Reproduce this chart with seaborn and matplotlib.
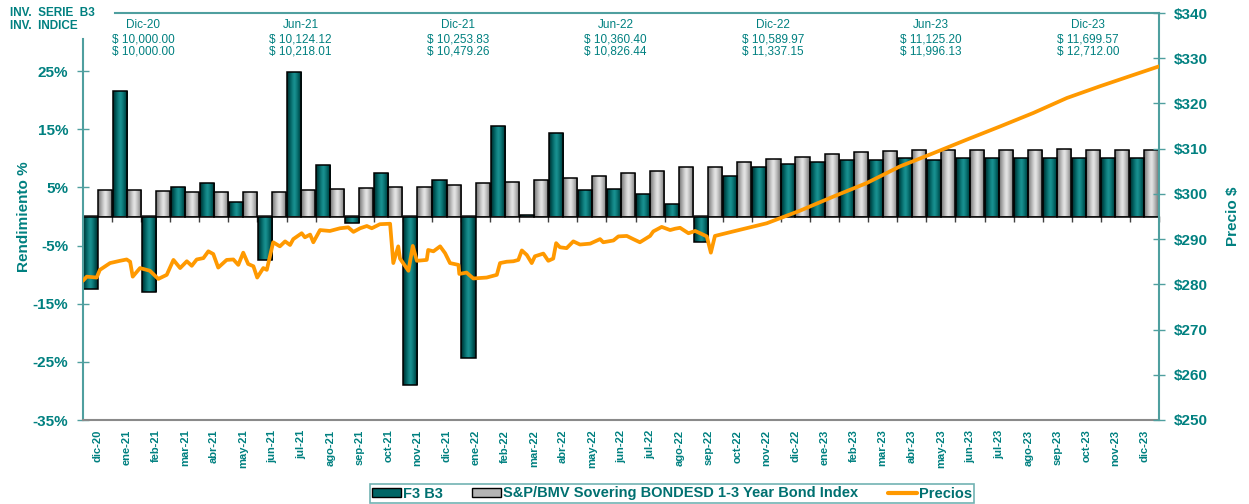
import numpy as np
import pandas as pd
import matplotlib
matplotlib.use("Agg")
import matplotlib.pyplot as plt
import seaborn as sns
from matplotlib.patches import Patch
from matplotlib.lines import Line2D
from matplotlib.colors import LinearSegmentedColormap

# ---------------- data ----------------
meses = ["dic-20", "ene-21", "feb-21", "mar-21", "abr-21", "may-21", "jun-21", "jul-21",
         "ago-21", "sep-21", "oct-21", "nov-21", "dic-21", "ene-22", "feb-22", "mar-22",
         "abr-22", "may-22", "jun-22", "jul-22", "ago-22", "sep-22", "oct-22", "nov-22",
         "dic-22", "ene-23", "feb-23", "mar-23", "abr-23", "may-23", "jun-23", "jul-23",
         "ago-23", "sep-23", "oct-23", "nov-23", "dic-23"]

f3_b3 = [-12.4, 21.5, -12.9, 5.0, 5.7, 2.5, -7.4, 24.9, 8.9, -1.1, 7.4, -29.0, 6.2,
         -24.4, 15.6, 0.2, 14.4, 4.6, 4.7, 3.9, 2.2, -4.4, 7.0, 8.5, 9.0, 9.4, 9.7, 9.7,
         10.1, 9.8, 10.0, 10.1, 10.1, 10.1, 10.0, 10.0, 10.0]

sp_bmv = [4.6, 4.5, 4.3, 4.2, 4.2, 4.2, 4.2, 4.5, 4.7, 4.9, 5.1, 5.1, 5.5, 5.7, 6.0, 6.2,
          6.7, 7.0, 7.4, 7.9, 8.5, 8.5, 9.4, 9.9, 10.3, 10.8, 11.1, 11.3, 11.5, 11.5,
          11.5, 11.5, 11.5, 11.6, 11.5, 11.5, 11.5]

# price series: position in months (0 = dic-20) and price in $
precio_pos = [-0.50, -0.37, -0.03, 0.08, 0.43, 0.77, 1.00, 1.12, 1.21, 1.46, 1.80, 2.09,
              2.38, 2.61, 2.84, 3.07, 3.24, 3.41, 3.64, 3.81, 3.98, 4.15, 4.44, 4.67,
              4.84, 5.01, 5.18, 5.36, 5.49, 5.70, 5.82, 6.04, 6.27, 6.45, 6.62, 6.73,
              7.02, 7.13, 7.31, 7.42, 7.65, 7.99, 8.34, 8.62, 8.80, 9.03, 9.26, 9.43,
              9.71, 10.06, 10.17, 10.34, 10.40, 10.69, 10.84, 10.98, 11.32, 11.37, 11.55,
              11.78, 11.95, 12.12, 12.41, 12.44, 12.69, 12.92, 13.38, 13.73, 13.84, 14.07,
              14.30, 14.47, 14.59, 14.76, 14.93, 15.04, 15.33, 15.50, 15.67, 15.77, 15.90,
              16.13, 16.36, 16.59, 16.94, 17.28, 17.39, 17.74, 17.91, 18.20, 18.42, 18.65,
              19.00, 19.11, 19.40, 19.69, 19.86, 20.03, 20.32, 20.55, 20.72, 20.95, 21.09,
              21.23, 21.86, 23.01, 24.16, 25.30, 26.45, 27.60, 28.74, 29.89, 31.03, 32.18,
              33.33, 34.47, 35.62, 36.50]
precio_val = [280.8, 281.7, 281.5, 283.2, 284.7, 285.2, 285.5, 285.0, 281.7, 283.6, 283.0,
              281.2, 282.1, 285.4, 283.6, 285.1, 284.1, 285.5, 285.8, 287.3, 286.7, 283.7,
              285.4, 285.5, 284.3, 287.0, 284.5, 284.0, 281.5, 283.6, 283.2, 289.3, 288.4,
              289.5, 288.7, 290.0, 291.3, 290.4, 291.0, 289.3, 292.0, 291.8, 292.4, 292.6,
              291.6, 292.4, 292.9, 292.4, 293.3, 293.4, 284.7, 288.4, 285.7, 283.0, 288.5,
              285.2, 285.4, 287.6, 287.3, 288.4, 286.9, 284.7, 284.3, 282.3, 282.6, 281.3,
              281.5, 282.1, 284.7, 285.0, 285.1, 285.4, 287.5, 286.5, 284.7, 286.2, 286.8,
              285.2, 285.7, 289.1, 288.2, 288.0, 289.5, 288.8, 289.0, 290.0, 289.3, 289.7,
              290.6, 290.7, 290.0, 289.3, 290.7, 291.7, 292.7, 292.0, 292.3, 292.5, 291.3,
              291.8, 291.3, 290.6, 287.0, 290.7, 291.7, 293.5, 296.3, 299.4, 302.4, 306.1,
              309.0, 312.0, 314.9, 317.9, 321.2, 323.8, 326.3, 328.2]

tabla_periodos = ["Dic-20", "Jun-21", "Dic-21", "Jun-22", "Dic-22", "Jun-23", "Dic-23"]
tabla_serie = ["$ 10,000.00", "$ 10,124.12", "$ 10,253.83", "$ 10,360.40", "$ 10,589.97",
               "$ 11,125.20", "$ 11,699.57"]
tabla_indice = ["$ 10,000.00", "$ 10,218.01", "$ 10,479.26", "$ 10,826.44", "$ 11,337.15",
                "$ 11,996.13", "$ 12,712.00"]

serie1 = "F3 B3"
serie2 = "S&P/BMV Sovering BONDESD 1-3 Year Bond Index"
serie3 = "Precios"

left_ticks = [-35, -25, -15, -5, 5, 15, 25]
right_ticks = [250, 260, 270, 280, 290, 300, 310, 320, 330, 340]

# ---------------- style ----------------
sns.set_theme(style="white")
plt.rcParams['font.family'] = ['Liberation Sans', 'DejaVu Sans']

TXT = "#008080"
AXC = "#4f9f9f"
TEAL = "#006666"
GRAY = "#b4b4b4"
ORANGE = "#FF9900"

W, H = 1249, 504
fig = plt.figure(figsize=(W / 100, H / 100), dpi=100)
ax = fig.add_axes([83 / W, 84 / H, 1076 / W, 407 / H])

df = pd.DataFrame({
    "mes": meses * 2,
    "serie": [serie1] * len(meses) + [serie2] * len(meses),
    "valor": f3_b3 + sp_bmv,
})
sns.barplot(data=df, x="mes", y="valor", hue="serie", order=meses,
            hue_order=[serie1, serie2], palette={serie1: TEAL, serie2: GRAY},
            width=0.97, gap=0, saturation=1, edgecolor="black", linewidth=1.1,
            ax=ax, legend=False, zorder=2)

# cylinder-like gradient fill on bars
cm_teal = LinearSegmentedColormap.from_list("t", ["#002a2a", "#005c5c", "#189090"])
cm_gray = LinearSegmentedColormap.from_list("g", ["#6e6e6e", "#a8a8a8", "#e4e4e4"])
u = np.linspace(0, 1, 64)
grad = (1 - np.abs(2 * u - 1) ** 1.3)[None, :]
bars = list(ax.patches)
for p in bars:
    h = p.get_height()
    if h == 0 or np.isnan(h):
        continue
    x0, w, y0 = p.get_x(), p.get_width(), p.get_y()
    fc = p.get_facecolor()
    cm = cm_teal if fc[1] < 0.5 else cm_gray
    im = ax.imshow(grad, extent=[x0, x0 + w, min(y0, y0 + h), max(y0, y0 + h)],
                   aspect="auto", cmap=cm, vmin=0, vmax=1, interpolation="bilinear",
                   zorder=1.9)
    im.set_clip_path(p)
    p.set_facecolor("none")

ax.set_xlim(-0.5, len(meses) - 0.5)
ax.set_ylim(-35, 35)
ax.set_yticks(left_ticks)
ax.set_yticklabels([f"{v}%" for v in left_ticks])
ax.tick_params(axis="y", direction="inout", length=9, width=1, color=AXC,
               labelcolor=TXT, labelsize=11, pad=6)
for lbl in ax.get_yticklabels():
    lbl.set_fontweight("bold")
ax.tick_params(axis="x", length=0, pad=7, labelcolor=TXT, labelsize=8, rotation=90)
for lbl in ax.get_xticklabels():
    lbl.set_fontweight("bold")
    lbl.set_family(["Liberation Sans Narrow", "Liberation Sans", "DejaVu Sans"])
ax.set_xlabel("")
ax.set_ylabel("Rendimiento %", color=TXT, fontsize=11, fontweight="bold", labelpad=1)

ax.spines["right"].set_visible(False)
ax.spines["left"].set_color(AXC)
ax.spines["left"].set_linewidth(1.5)
ax.spines["left"].set_bounds(-35, 30.5)
ax.spines["top"].set_color(AXC)
ax.spines["top"].set_linewidth(1.5)
ax.spines["top"].set_bounds(0.6, len(meses) - 0.5)
ax.spines["bottom"].set_color("#8a8a8a")
ax.spines["bottom"].set_linewidth(1.5)

# category axis crossing at 0 %
zero_ax = ax.secondary_xaxis(0.5)
zero_ax.set_xticks(np.arange(-0.5, len(meses), 1.0))
zero_ax.tick_params(direction="in", length=4, width=1, color="#404040",
                    labeltop=False, labelbottom=False)
for s in zero_ax.spines.values():
    s.set_color("#303030")
    s.set_linewidth(1.2)

# price line on the secondary axis
ax2 = ax.twinx()
sns.lineplot(x=precio_pos, y=precio_val, ax=ax2, color=ORANGE, linewidth=2.7,
             sort=False, zorder=5)
ax2.set_xlim(-0.5, len(meses) - 0.5)
ax2.set_ylim(250, 340)
ax2.set_yticks(right_ticks)
ax2.set_yticklabels([f"${v}" for v in right_ticks])
ax2.tick_params(axis="y", direction="inout", length=9, width=1, color=AXC,
                labelcolor=TXT, labelsize=11, pad=6)
for lbl in ax2.get_yticklabels():
    lbl.set_fontweight("bold")
ax2.set_ylabel("Precio $", color=TXT, fontsize=11, fontweight="bold", labelpad=13)
for k in ["left", "top", "bottom"]:
    ax2.spines[k].set_visible(False)
ax2.spines["right"].set_color(AXC)
ax2.spines["right"].set_linewidth(1.5)

# header table
fig.text(10 / W, 1 - 13 / H, "INV.  SERIE  B3", color=TXT, fontsize=8.5,
         fontweight="bold", va="center", ha="left")
fig.text(10 / W, 1 - 26 / H, "INV.  INDICE", color=TXT, fontsize=8.5,
         fontweight="bold", va="center", ha="left")
for i, (per, s, ind) in enumerate(zip(tabla_periodos, tabla_serie, tabla_indice)):
    xc = (143 + i * 157.5) / W
    fig.text(xc, 1 - 25 / H, per, color=TXT, fontsize=8.5, ha="center", va="center")
    fig.text(xc, 1 - 39 / H, s, color=TXT, fontsize=8.5, ha="center", va="center")
    fig.text(xc, 1 - 52 / H, ind, color=TXT, fontsize=8.5, ha="center", va="center")

# legend
handles = [Patch(facecolor=TEAL, edgecolor="black", linewidth=1),
           Patch(facecolor=GRAY, edgecolor="black", linewidth=1),
           Line2D([0], [0], color=ORANGE, linewidth=3)]
leg = fig.legend(handles, [serie1, serie2, serie3], loc="center",
                 bbox_to_anchor=(672 / W, 1 - 493.5 / H), ncol=3, frameon=True,
                 fancybox=False, edgecolor=AXC, fontsize=10.5, handlelength=2.0,
                 handleheight=0.55, handletextpad=0.15, columnspacing=2.0,
                 borderpad=0.15, borderaxespad=0)
leg.get_frame().set_linewidth(1.2)
for t in leg.get_texts():
    t.set_color("#007070")
    t.set_fontweight("bold")

fig.savefig("out.png", dpi=100)
